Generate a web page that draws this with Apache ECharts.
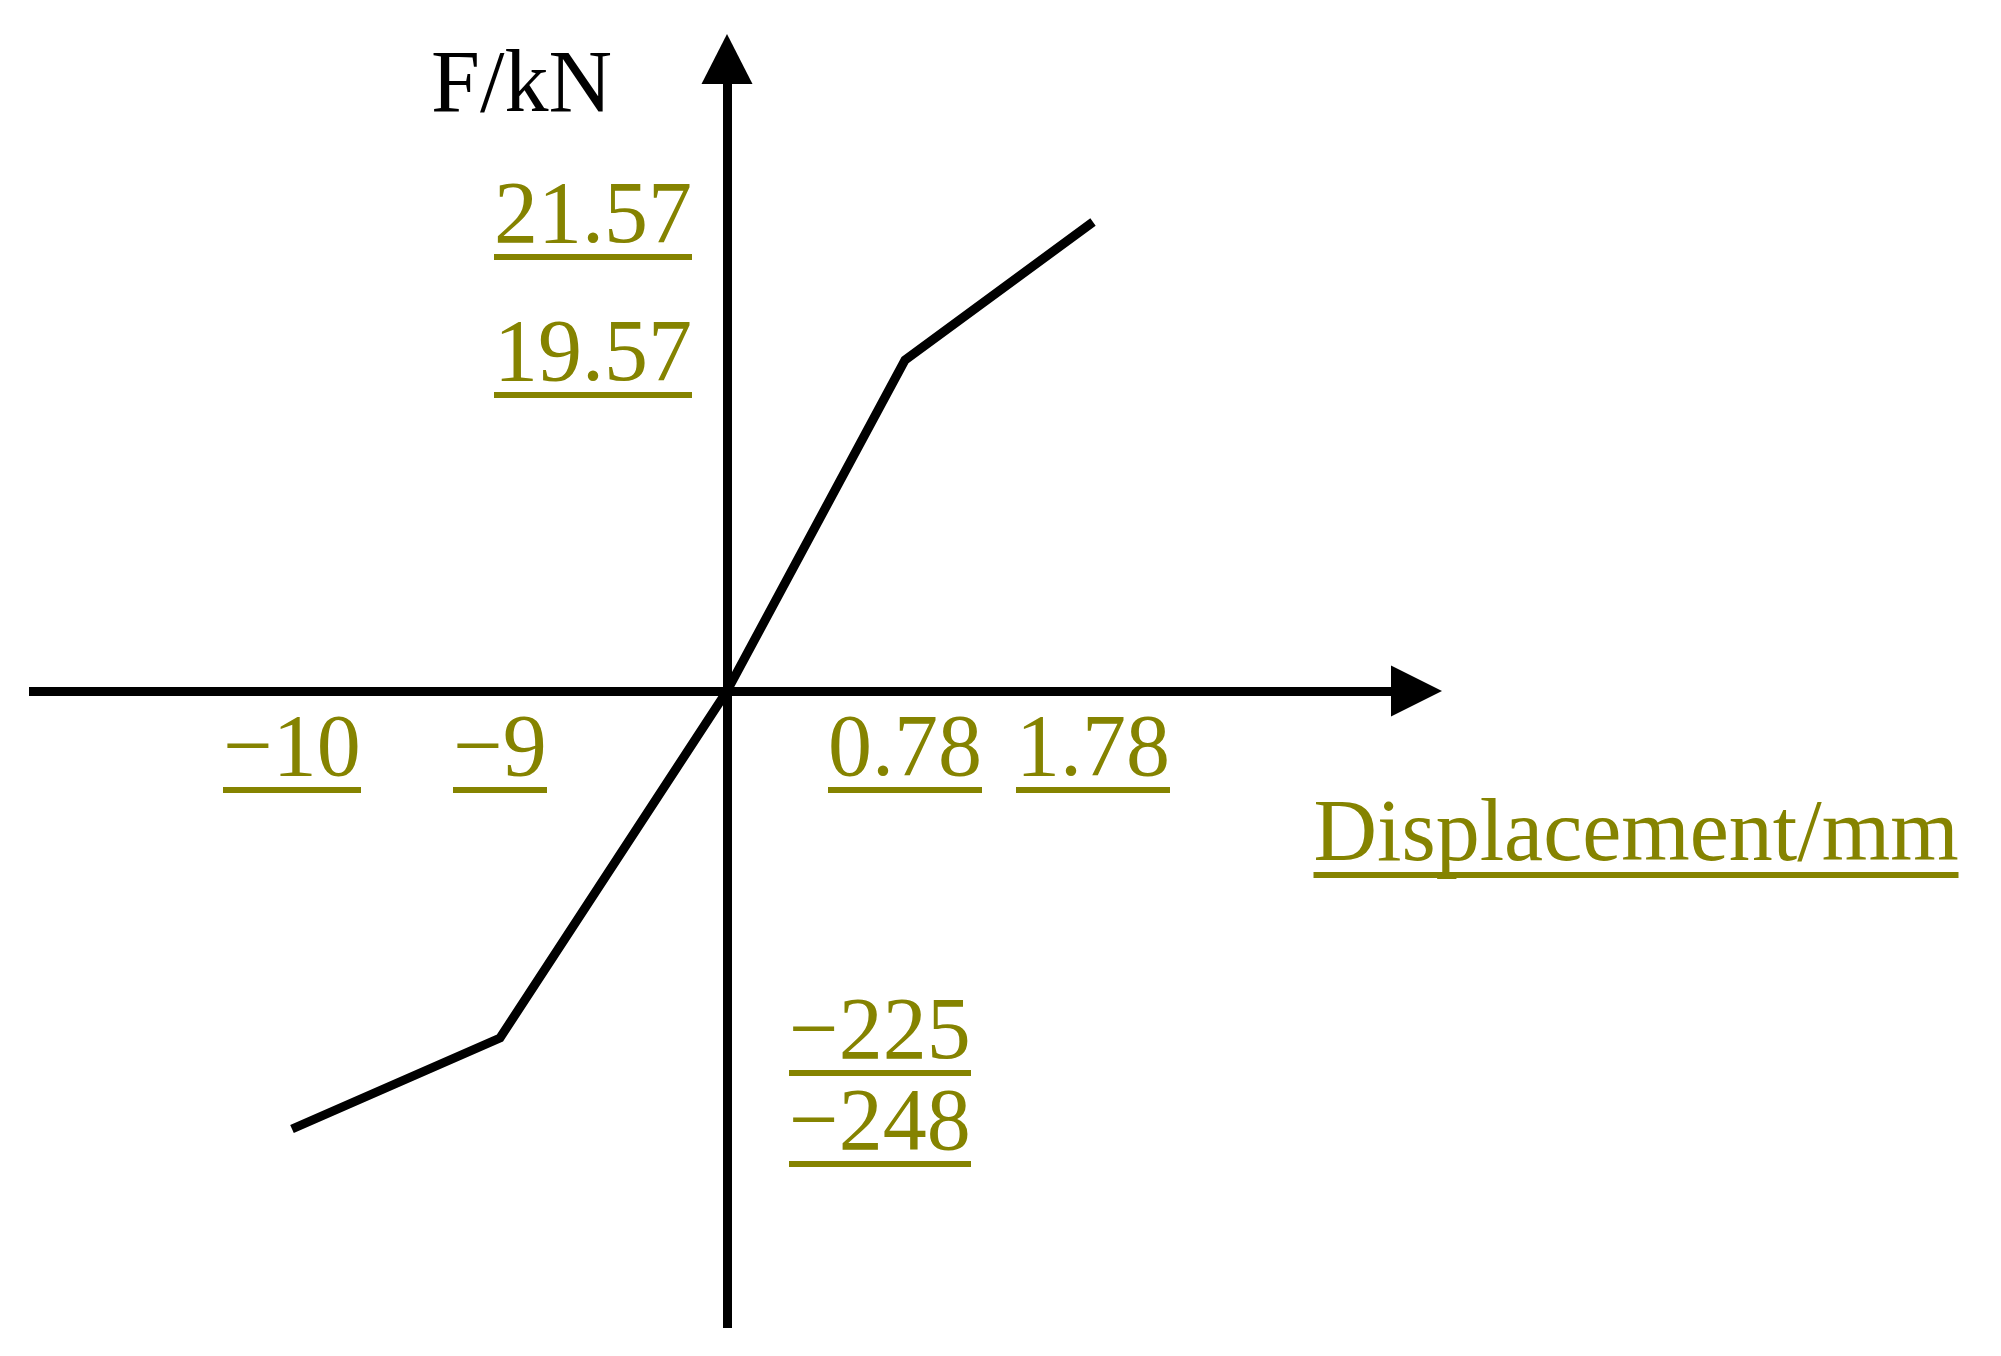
<!DOCTYPE html>
<html>
<head>
<meta charset="utf-8">
<script src="https://cdn.jsdelivr.net/npm/echarts@6/dist/echarts.min.js"></script>
<style>
html, body { margin: 0; padding: 0; background: #ffffff; }
#chart { width: 2001px; height: 1356px; }
</style>
</head>
<body>
<div id="chart"></div>
<script>
// The figure is a schematic (not drawn to scale): corner points of the
// force–displacement curve in sketch units.
const sketchX = [-4.35, -2.27, 0, 1.78, 3.66];
const sketchY = [-4.38, -3.47, 0, 3.31, 4.69];
// Values written at those corner points
const dispLabels = ['−10', '−9', '0', '0.78', '1.78'];
const forceLabels = ['−248', '−225', '0', '19.57', '21.57'];
const xName = 'Displacement/mm';
const yName = 'F/kN';

const OLIVE = '#858300';
const FONT = 'Liberation Serif';
const FS = 88;

const xTicks = sketchX.filter((v, i) => dispLabels[i] !== '0');
const yTicksPos = sketchY.filter((v, i) => forceLabels[i] !== '0' && v > 0);
const yTicksNeg = sketchY.filter((v, i) => forceLabels[i] !== '0' && v < 0);

const measureCtx = document.createElement('canvas').getContext('2d');
measureCtx.font = FS + 'px "' + FONT + '"';
function textWidth(s) { return Math.round(measureCtx.measureText(s).width); }

function nearestIndex(arr, v) {
  let best = 0, bd = Infinity;
  arr.forEach((a, i) => { const d = Math.abs(a - v); if (d < bd) { bd = d; best = i; } });
  return best;
}

// every label text gets its own underline style sized to the text
const allTexts = dispLabels.concat(forceLabels, [xName]);
function key(s) { return 'u' + allTexts.indexOf(s); }
function underlined(text) { return '{t|' + text + '}\n{' + key(text) + '| }'; }
function richUnder(align) {
  const r = { t: { fontFamily: FONT, fontSize: FS, lineHeight: 70, color: OLIVE, align: align } };
  allTexts.forEach(s => {
    r[key(s)] = { width: textWidth(s), height: 6, lineHeight: 6, fontSize: 6, backgroundColor: OLIVE, align: align };
  });
  return r;
}

const chart = echarts.init(document.getElementById('chart'), null, { renderer: 'canvas' });

const axisLineStyle = { color: '#000000', width: 9, cap: 'butt' };

// grid edges: left 29, right 1416.5, top 59, bottom 1328; origin at (727, 691)
chart.setOption({
  animation: false,
  backgroundColor: '#ffffff',
  grid: { left: 29, right: 584.5, top: 59, bottom: 28, containLabel: false, outerBoundsMode: 'none' },
  xAxis: {
    type: 'value',
    position: 'bottom',
    offset: -637,
    min: -6.98, max: 6.895,
    axisLine: { show: true, onZero: false, symbol: ['none', 'triangle'], symbolSize: [51, 51], lineStyle: axisLineStyle },
    axisTick: { show: false },
    splitLine: { show: false },
    axisLabel: {
      show: true,
      customValues: xTicks,
      margin: 26,
      formatter: v => underlined(dispLabels[nearestIndex(sketchX, v)]),
      rich: richUnder('center')
    },
    name: underlined(xName),
    nameLocation: 'end',
    nameGap: 219.5,
    nameMoveOverlap: false,
    nameTextStyle: { align: 'center', verticalAlign: 'top', padding: [111, 0, 0, 0], rich: richUnder('center') }
  },
  yAxis: [
    {
      type: 'value',
      position: 'left',
      offset: -698,
      min: -6.37, max: 6.32,
      axisLine: { show: true, onZero: false, symbol: ['none', 'triangle'], symbolSize: [51, 50], lineStyle: axisLineStyle },
      axisTick: { show: false },
      splitLine: { show: false },
      axisLabel: {
        show: true,
        customValues: yTicksPos,
        margin: 35,
        formatter: v => underlined(forceLabels[nearestIndex(sketchY, v)]),
        rich: richUnder('right')
      },
      name: yName,
      nameLocation: 'end',
      nameGap: -29,
      nameMoveOverlap: false,
      nameTextStyle: { fontFamily: FONT, fontSize: FS, color: '#000000', align: 'right', verticalAlign: 'middle', padding: [0, 115, 0, 0] }
    },
    {
      type: 'value',
      position: 'right',
      offset: -689.5,
      min: -6.37, max: 6.32,
      axisLine: { show: false, onZero: false },
      axisTick: { show: false },
      splitLine: { show: false },
      axisLabel: {
        show: true,
        customValues: yTicksNeg,
        margin: 62,
        formatter: v => underlined(forceLabels[nearestIndex(sketchY, v)]),
        rich: richUnder('left')
      }
    }
  ],
  series: [
    {
      type: 'line',
      xAxisIndex: 0,
      yAxisIndex: 0,
      data: sketchX.map((x, i) => [x, sketchY[i]]),
      symbol: 'none',
      silent: true,
      clip: false,
      z: 3,
      lineStyle: { color: '#000000', width: 9, join: 'miter', cap: 'butt' }
    }
  ]
});
</script>
</body>
</html>
